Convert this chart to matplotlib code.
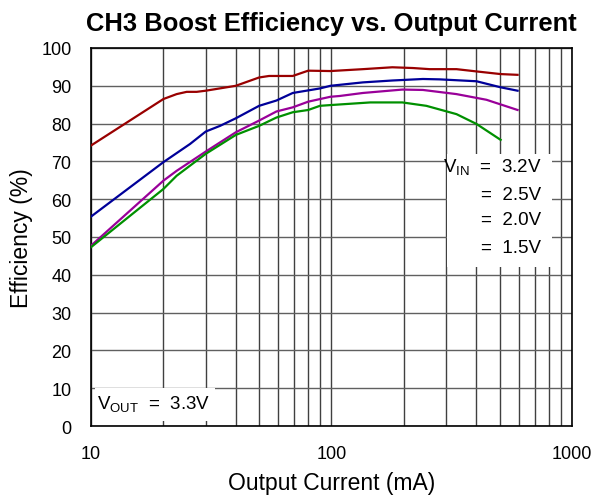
import matplotlib
matplotlib.use("Agg")
import matplotlib.pyplot as plt
from matplotlib.patches import Rectangle
from matplotlib.ticker import FixedLocator, NullFormatter

plt.rcParams['font.family'] = ['Liberation Sans', 'DejaVu Sans']
plt.rcParams['mathtext.fontset'] = 'custom'
plt.rcParams['mathtext.rm'] = 'Liberation Sans'

# Efficiency data (current in mA, efficiency in %)
i_32 = [10, 20, 22.7, 25, 27.5, 30, 40, 50, 55, 69, 80, 99, 135, 179, 218, 256, 331, 401, 505, 594]
eff_32 = [74.2, 86.5, 87.8, 88.4, 88.4, 88.7, 90.0, 92.2, 92.6, 92.6, 94.0, 93.9, 94.4, 94.9, 94.7, 94.4, 94.4, 93.8, 93.1, 92.9]

i_25 = [10, 20, 25.8, 30, 34.4, 40, 50, 59, 69, 89.5, 99, 135, 179, 240, 282, 401, 505, 594]
eff_25 = [55.4, 69.8, 74.6, 77.9, 79.4, 81.4, 84.7, 86.1, 88.1, 89.3, 90.0, 90.9, 91.4, 91.8, 91.7, 91.2, 89.6, 88.7]

i_20 = [10, 20, 22.7, 30, 40, 50, 59, 69, 80, 99, 108, 135, 197, 240, 331, 441, 594]
eff_20 = [47.7, 64.9, 67.5, 72.6, 77.7, 80.8, 83.2, 84.3, 85.8, 87.1, 87.3, 88.1, 89.0, 88.9, 87.8, 86.3, 83.6]

i_15 = [10, 20, 22.7, 30, 40, 44.3, 50, 59, 69, 80, 89.5, 99, 145, 197, 248, 331, 401, 505]
eff_15 = [47.3, 62.7, 66.2, 72.0, 77.0, 78.1, 79.4, 81.6, 83.0, 83.6, 84.7, 84.9, 85.6, 85.6, 84.7, 82.5, 79.9, 75.7]

vin_labels = ['3.2V', '2.5V', '2.0V', '1.5V']

fig = plt.figure(figsize=(5.96, 5.02), dpi=100)
ax = fig.add_axes([0.1527, 0.1494, 0.807, 0.753])

ax.plot(i_32, eff_32, color='#990000', lw=1.6, zorder=3)
ax.plot(i_25, eff_25, color='#000099', lw=1.6, zorder=3)
ax.plot(i_20, eff_20, color='#990099', lw=1.6, zorder=3)
ax.plot(i_15, eff_15, color='#009000', lw=1.6, zorder=3)

ax.set_xscale('log')
ax.set_xlim(10, 1000)
ax.set_ylim(0, 100)
ax.set_yticks(range(0, 101, 10))
ax.xaxis.set_major_locator(FixedLocator([10, 100, 1000]))
ax.xaxis.set_minor_locator(FixedLocator([d * m for d in (10, 100) for m in range(2, 10)]))
ax.xaxis.set_minor_formatter(NullFormatter())
ax.set_xticklabels(['10', '100', '1000'])
ax.tick_params(axis='both', which='both', length=0, labelsize=13)
ax.tick_params(axis='x', pad=14)
ax.tick_params(axis='y', pad=14)

ax.set_axisbelow(True)
ax.grid(True, which='both', axis='x', color='#404040', lw=1.0)
ax.grid(True, which='major', axis='y', color='#606060', lw=1.0)
for s in ax.spines.values():
    s.set_linewidth(1.2)
    s.set_color('black')

ax.set_xlabel('Output Current (mA)', fontsize=16.5, labelpad=6)
ax.set_ylabel('Efficiency (%)', fontsize=16.5, labelpad=6)
ax.set_title('CH3 Boost Efficiency vs. Output Current', fontsize=18.4, fontweight='bold', pad=13)

# legend-like text block
ax.add_patch(Rectangle((0.740, 0.42), 0.218, 0.30, transform=ax.transAxes,
                       facecolor='white', edgecolor='none', zorder=1))
ys = [0.688, 0.613, 0.545, 0.473]
for k, (lab, yy) in enumerate(zip(vin_labels, ys)):
    txt = (r'$\mathregular{V_{IN}}$  =  ' if k == 0 else '=  ') + lab
    ax.text(0.936, yy, txt, transform=ax.transAxes, ha='right', va='center',
            fontsize=13.5, zorder=4)

ax.add_patch(Rectangle((0.008, 0.013), 0.25, 0.087, transform=ax.transAxes,
                       facecolor='white', edgecolor='none', zorder=1))
ax.text(0.012, 0.062, r'$\mathregular{V_{OUT}}$  =  3.3V', transform=ax.transAxes,
        ha='left', va='center', fontsize=13.5, zorder=4)

plt.savefig('out.png', dpi=100)
plt.close()
